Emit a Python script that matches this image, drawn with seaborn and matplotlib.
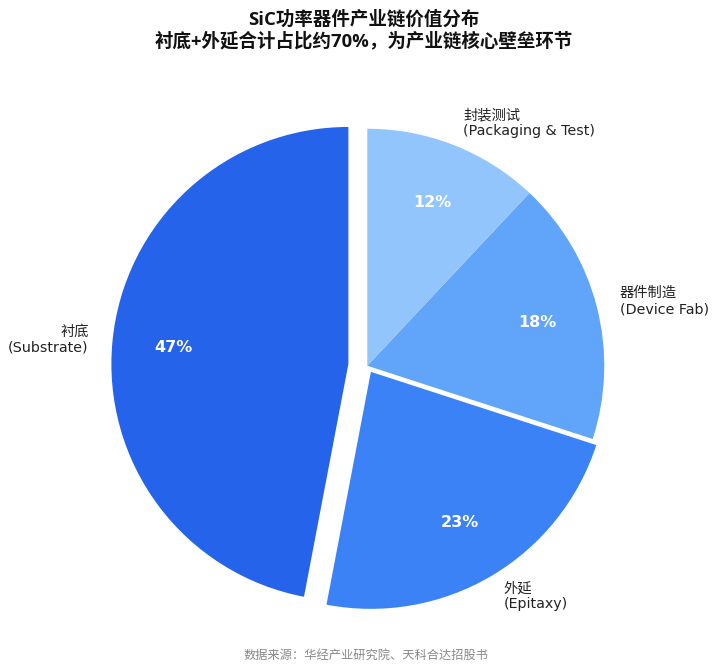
import matplotlib.pyplot as plt
import seaborn as sns

sns.set_theme(style="white")
plt.rcParams["font.family"] = ["Open Sans", "Noto Sans CJK SC", "DejaVu Sans"]
label_fonts = ["DejaVu Sans", "Noto Sans CJK SC"]

# Data
segments = ["衬底\n(Substrate)", "外延\n(Epitaxy)", "器件制造\n(Device Fab)", "封装测试\n(Packaging & Test)"]
shares = [47, 23, 18, 12]
colors = ["#2563EB", "#3B82F6", "#60A5FA", "#93C5FD"]
explode = [0.08, 0.03, 0, 0]

fig = plt.figure(figsize=(7.2, 6.72), dpi=100)
ax = fig.add_axes([0.0986, 0.0149, 0.823, 0.8817])

wedges, texts, autotexts = ax.pie(
    shares,
    labels=segments,
    colors=colors,
    explode=explode,
    startangle=90,
    counterclock=True,
    autopct="%d%%",
    pctdistance=0.74,
    labeldistance=1.1,
    wedgeprops={"linewidth": 0},
    textprops={"fontsize": 10.3, "color": "#222222", "family": label_fonts},
)
for t in autotexts:
    t.set_color("white")
    t.set_fontsize(11.5)
    t.set_fontweight("bold")

ax.set_xlim(-1.25, 1.25)
ax.set_ylim(-1.25, 1.25)
ax.set_aspect("equal")

fig.text(
    0.505, 0.985,
    "SiC功率器件产业链价值分布\n衬底+外延合计占比约70%，为产业链核心壁垒环节",
    ha="center", va="top", fontsize=13.3, fontweight="bold", color="#111111",
    linespacing=1.2,
)
fig.text(
    0.508, 0.025, "数据来源：华经产业研究院、天科合达招股书",
    ha="center", va="center", fontsize=8.8, color="#888888",
)

plt.savefig("out.png", dpi=100)
